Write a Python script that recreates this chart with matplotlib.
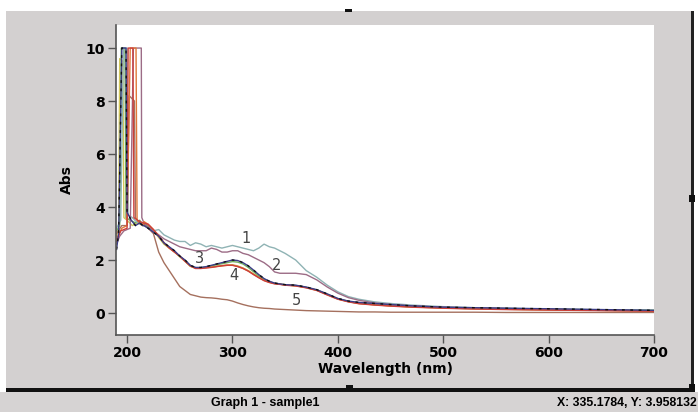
import matplotlib
matplotlib.use('Agg')
import matplotlib.pyplot as plt
from matplotlib.patches import Rectangle

plt.rcParams['font.family'] = ['DejaVu Sans']

# spike region (per curve), wavelength nm / Abs
head_wl_yellow = [190, 192, 193, 196, 197, 200, 205, 210, 215]
head_ab_yellow = [2.9, 3.2, 9.6, 9.5, 3.6, 3.5, 3.3, 3.4, 3.3]
head_wl_green = [190, 193, 194.5, 198, 199, 203, 208, 212, 215]
head_ab_green = [3.1, 3.3, 10.0, 10.0, 3.6, 3.5, 3.4, 3.5, 3.3]
head_wl_1 = [190, 194, 196.5, 200, 201, 205, 210, 215]
head_ab_1 = [3.2, 3.5, 10.0, 10.0, 3.7, 3.6, 3.4, 3.3]
head_wl_3 = [190, 192, 195, 199, 200, 204, 208, 212, 215]
head_ab_3 = [2.4, 3.0, 10.0, 10.0, 3.8, 3.5, 3.3, 3.4, 3.3]
head_wl_4 = [190, 194, 200, 201, 205.5, 206.5, 210, 215]
head_ab_4 = [2.7, 3.1, 3.2, 10.0, 10.0, 3.6, 3.5, 3.4]
head_wl_orange = [190, 195, 200, 203, 208.5, 209.5, 212, 215]
head_ab_orange = [2.8, 3.2, 3.3, 10.0, 10.0, 3.5, 3.4, 3.3]
head_wl_2 = [190, 193, 197, 203, 206, 213.5, 214, 215]
head_ab_2 = [2.6, 2.9, 3.1, 3.2, 10.0, 10.0, 3.6, 3.5]
head_wl_5 = [190, 195, 200, 202, 207, 208, 212, 215]
head_ab_5 = [3.0, 3.3, 3.3, 8.2, 8.0, 3.6, 3.4, 3.4]

# shared wavelengths for the rest of the spectrum
wl = [216, 220, 225, 230, 235, 240, 245, 250, 255, 260, 265, 270, 275, 280,
      285, 290, 295, 300, 305, 310, 315, 320, 325, 330, 335, 340, 345, 350,
      360, 370, 380, 390, 400, 410, 420, 435, 450, 470, 500, 530, 560, 600,
      650, 700]

abs_1 = [3.3, 3.2, 3.1, 3.15, 2.95, 2.85, 2.75, 2.7, 2.7, 2.55, 2.65, 2.6, 2.5, 2.55,
         2.5, 2.45, 2.5, 2.55, 2.5, 2.45, 2.4, 2.35, 2.45, 2.6, 2.5, 2.45, 2.35, 2.25,
         2.0, 1.6, 1.35, 1.05, 0.8, 0.62, 0.52, 0.42, 0.36, 0.3, 0.24, 0.2, 0.18, 0.15,
         0.12, 0.1]
abs_2 = [3.4, 3.3, 3.1, 2.95, 2.8, 2.7, 2.6, 2.5, 2.45, 2.4, 2.35, 2.35, 2.35, 2.45,
         2.4, 2.3, 2.3, 2.35, 2.35, 2.25, 2.2, 2.1, 2.0, 1.9, 1.75, 1.55, 1.5, 1.5,
         1.5, 1.45, 1.25, 0.98, 0.75, 0.58, 0.48, 0.38, 0.32, 0.27, 0.22, 0.19, 0.17, 0.14,
         0.11, 0.08]
abs_3 = [3.3, 3.2, 3.05, 2.9, 2.65, 2.5, 2.35, 2.15, 2.0, 1.8, 1.72, 1.72, 1.75, 1.8,
         1.85, 1.9, 1.95, 2.0, 1.98, 1.9, 1.78, 1.62, 1.45, 1.3, 1.2, 1.13, 1.1, 1.07,
         1.05, 0.98, 0.88, 0.72, 0.55, 0.45, 0.4, 0.36, 0.32, 0.27, 0.22, 0.2, 0.18, 0.16,
         0.13, 0.1]
abs_4 = [3.4, 3.35, 3.15, 2.9, 2.65, 2.45, 2.3, 2.15, 1.95, 1.78, 1.68, 1.68, 1.7, 1.72,
         1.75, 1.78, 1.8, 1.8, 1.75, 1.68, 1.58, 1.45, 1.33, 1.22, 1.15, 1.1, 1.08, 1.05,
         1.02, 0.95, 0.85, 0.68, 0.52, 0.42, 0.35, 0.3, 0.26, 0.22, 0.18, 0.15, 0.13, 0.11,
         0.09, 0.07]
abs_5 = [3.35, 3.2, 3.0, 2.3, 1.9, 1.6, 1.3, 1.0, 0.85, 0.7, 0.65, 0.6, 0.58, 0.57,
         0.55, 0.52, 0.5, 0.45, 0.38, 0.32, 0.27, 0.23, 0.2, 0.18, 0.17, 0.15, 0.14, 0.13,
         0.11, 0.09, 0.08, 0.07, 0.06, 0.05, 0.04, 0.04, 0.03, 0.03, 0.03, 0.03, 0.02, 0.02,
         0.02, 0.02]
abs_yellow = [3.3, 3.25, 3.1, 2.85, 2.6, 2.45, 2.3, 2.12, 1.95, 1.76, 1.7, 1.7, 1.72, 1.74,
              1.76, 1.78, 1.8, 1.82, 1.78, 1.7, 1.6, 1.48, 1.36, 1.25, 1.17, 1.12, 1.09, 1.06,
              1.03, 0.96, 0.86, 0.7, 0.53, 0.43, 0.36, 0.31, 0.27, 0.23, 0.19, 0.16, 0.14, 0.12,
              0.1, 0.08]
abs_green = [3.35, 3.25, 3.1, 2.9, 2.62, 2.48, 2.32, 2.14, 1.98, 1.79, 1.71, 1.71, 1.74, 1.78,
             1.82, 1.86, 1.9, 1.94, 1.92, 1.85, 1.72, 1.56, 1.4, 1.27, 1.18, 1.12, 1.09, 1.06,
             1.04, 0.97, 0.87, 0.71, 0.54, 0.44, 0.38, 0.34, 0.3, 0.26, 0.21, 0.19, 0.17, 0.15,
             0.12, 0.11]
abs_orange = [3.45, 3.35, 3.15, 2.92, 2.66, 2.46, 2.3, 2.14, 1.96, 1.77, 1.69, 1.69, 1.71, 1.73,
              1.76, 1.79, 1.81, 1.81, 1.76, 1.69, 1.59, 1.46, 1.34, 1.23, 1.16, 1.11, 1.09, 1.06,
              1.03, 0.96, 0.86, 0.69, 0.53, 0.43, 0.36, 0.31, 0.27, 0.23, 0.19, 0.16, 0.14, 0.12,
              0.1, 0.08]

curve_labels = ['1', '2', '3', '4', '5']
label_x = [313, 342, 269, 301, 361]
label_y = [2.82, 1.81, 2.06, 1.43, 0.49]

W, H = 698, 412
fig = plt.figure(figsize=(W / 100, H / 100), dpi=100)
fig.patch.set_facecolor('white')

def px(x0, y0, x1, y1, **kw):
    fig.patches.append(Rectangle((x0 / W, 1 - y1 / H), (x1 - x0) / W, (y1 - y0) / H,
                                 transform=fig.transFigure, figure=fig, zorder=-10, **kw))

# window panel and status bar
px(6, 11, 693, 389, facecolor='#d3d0d0', edgecolor='none')
px(0, 392, 698, 412, facecolor='#d6d3d3', edgecolor='none')
px(6, 388, 695, 392, facecolor='#111111', edgecolor='none')
px(691, 11, 694, 390, facecolor='#222222', edgecolor='none')
px(345, 9, 352, 12, facecolor='#111111', edgecolor='none')
px(689, 195, 695, 202, facecolor='#111111', edgecolor='none')
px(346, 385, 353, 392, facecolor='#111111', edgecolor='none')
px(689, 384, 695, 392, facecolor='#111111', edgecolor='none')

ax = fig.add_axes([116 / W, 1 - 335 / H, (654 - 116) / W, (335 - 25) / H])
ax.set_zorder(5)
ax.set_facecolor('white')

series = [
    (head_wl_yellow, head_ab_yellow, abs_yellow, '#d2c65a'),
    (head_wl_green, head_ab_green, abs_green, '#6fae5e'),
    (head_wl_1, head_ab_1, abs_1, '#8fb3b4'),
    (head_wl_2, head_ab_2, abs_2, '#9c6c86'),
    (head_wl_5, head_ab_5, abs_5, '#a5705e'),
    (head_wl_orange, head_ab_orange, abs_orange, '#e07a3a'),
    (head_wl_4, head_ab_4, abs_4, '#cc3f3a'),
    (head_wl_3, head_ab_3, abs_3, '#3c3c86'),
]
for hw, ha, ab, c in series:
    ax.plot(hw + wl, ha + ab, color=c, lw=1.0)
# black dashes running along curve 3
ax.plot(head_wl_3 + wl, head_ab_3 + abs_3, color='#111111', lw=1.0, dashes=(2, 4))

for t, x, y in zip(curve_labels, label_x, label_y):
    ax.text(x, y, t, fontsize=10.5, color='#444444', ha='center', va='center')

ax.set_xlim(189.5, 700)
ax.set_ylim(-0.83, 10.87)
ax.set_xticks([200, 300, 400, 500, 600, 700])
ax.set_yticks([0, 2, 4, 6, 8, 10])
for s in ['top', 'right']:
    ax.spines[s].set_visible(False)
for s in ['left', 'bottom']:
    ax.spines[s].set_color('#555555')
    ax.spines[s].set_linewidth(1.2)
ax.tick_params(axis='both', direction='out', length=6, width=1.0, color='#555555',
               labelsize=10, pad=2)
for lab in ax.get_xticklabels() + ax.get_yticklabels():
    lab.set_fontweight('bold')
ax.set_xlabel('Wavelength (nm)', fontsize=10, fontweight='bold', labelpad=1)
ax.set_ylabel('Abs', fontsize=10, fontweight='bold', labelpad=8)

fig.text(265 / W, 1 - 403 / H, 'Graph 1 - sample1', fontsize=9, fontweight='bold',
         family='Liberation Sans', ha='center', va='center')
fig.text(557 / W, 1 - 403 / H, 'X: 335.1784, Y: 3.958132', fontsize=8.8, fontweight='bold',
         family='Liberation Sans', ha='left', va='center')

fig.savefig('out.png', dpi=100)
